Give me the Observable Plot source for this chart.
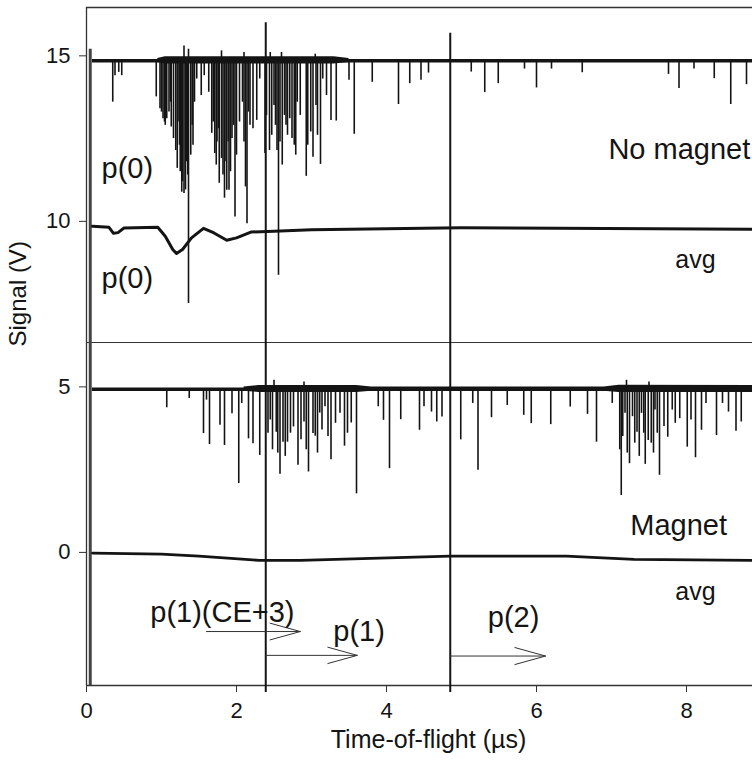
<!DOCTYPE html>
<html><head><meta charset="utf-8">
<script src="https://cdn.jsdelivr.net/npm/d3@7"></script>
<script src="https://cdn.jsdelivr.net/npm/@observablehq/plot@0.6"></script>
<style>body{margin:0;background:#fff} svg{font-family:"Liberation Sans",Arial,sans-serif}</style>
</head><body><div id="chart"></div>
<script>
// ---- tick labels ----
const xTicks = [0, 2, 4, 6, 8];
const yTicks = [0, 5, 10, 15];

// ---- trace baselines (V) ----
const topBase = 14.85;   // single shot, no magnet (offset +15)
const magBase = 4.93;    // single shot, magnet (offset +5)

// ---- single-shot spikes: [time µs, signal V] (No magnet) ----
const topSpikes = [
  [0.35,13.6],[0.38,14.4],[0.43,14.5],[0.47,14.4],[0.93,13.76],[0.98,13.4],[1.00,13.3],[1.02,13.1],
  [1.04,13.0],[1.05,12.9],[1.07,13.1],[1.10,13.3],[1.12,13.6],[1.13,12.85],[1.16,12.5],[1.19,12.14],
  [1.21,11.6],[1.22,13.0],[1.24,12.3],[1.25,11.5],[1.27,10.88],[1.28,11.2],[1.30,10.84],[1.32,10.95],
  [1.33,11.8],[1.35,11.4],[1.36,7.52],[1.39,12.0],[1.41,12.9],[1.42,12.3],[1.44,13.6],[1.47,14.3],
  [1.53,13.8],[1.57,14.4],[1.63,13.9],[1.67,12.66],[1.69,13.0],[1.71,12.05],[1.73,11.7],[1.74,12.4],
  [1.76,12.8],[1.77,11.15],[1.80,11.9],[1.82,11.4],[1.84,10.7],[1.86,11.8],[1.87,10.94],[1.89,12.4],
  [1.90,10.94],[1.92,11.5],[1.94,12.5],[1.96,12.9],[1.98,10.13],[2.00,12.0],[2.04,13.0],[2.08,13.6],
  [2.10,12.4],[2.12,11.04],[2.14,9.93],[2.16,13.3],[2.18,12.9],[2.22,12.8],[2.27,13.05],[2.31,14.3],
  [2.38,12.05],[2.40,13.2],[2.44,12.14],[2.47,12.6],[2.50,13.5],[2.52,12.9],[2.54,12.14],[2.56,8.37],
  [2.58,12.4],[2.61,11.7],[2.64,13.2],[2.66,12.9],[2.68,12.6],[2.71,13.1],[2.74,12.5],[2.77,12.3],
  [2.79,12.0],[2.81,13.6],[2.85,13.2],[2.93,11.36],[2.95,12.3],[2.99,12.7],[3.02,11.94],[3.06,13.5],
  [3.08,12.6],[3.12,11.72],[3.15,14.3],[3.20,13.8],[3.26,13.05],[3.33,13.03],[3.50,14.26],[3.57,12.63],
  [3.81,14.2],[4.16,13.53],[4.31,14.16],[4.46,14.26],[4.56,14.48],[5.13,14.51],[5.31,13.89],[5.49,14.16],
  [5.84,14.6],[6.00,14.03],[6.20,14.6],[6.61,14.49],[7.76,14.44],[7.90,14.01],[8.10,14.6],[8.37,14.31],
  [8.59,13.53],[8.80,14.13],
  [1.30,15.3],[1.36,15.2],[1.80,15.15],[2.10,15.1],[2.45,15.1],[2.60,15.1],[3.05,15.05]
];

// ---- single-shot spikes: [time µs, signal V] (Magnet) ----
const magSpikes = [
  [1.07,4.37],[1.37,4.65],[1.56,3.59],[1.60,4.6],[1.64,3.26],[1.78,3.84],[1.84,3.23],[1.94,4.19],
  [2.03,2.08],[2.07,4.5],[2.16,3.43],[2.22,3.28],[2.31,2.93],[2.42,3.6],[2.45,4.0],[2.48,3.10],
  [2.53,3.63],[2.55,3.0],[2.58,2.36],[2.62,3.33],[2.65,2.9],[2.68,3.33],[2.72,3.6],[2.76,3.79],
  [2.82,2.63],[2.86,3.4],[2.90,3.94],[2.93,3.1],[2.96,2.43],[3.02,3.59],[3.05,3.51],[3.08,3.0],
  [3.11,4.21],[3.14,3.7],[3.18,4.4],[3.22,3.5],[3.26,2.80],[3.32,3.9],[3.38,4.2],[3.44,3.21],
  [3.48,3.6],[3.53,3.91],[3.60,1.77],[3.89,4.4],[3.96,3.99],[4.04,2.53],[4.19,4.01],[4.44,3.69],
  [4.50,4.4],[4.60,4.24],[4.67,3.94],[4.74,4.09],[4.99,3.40],[5.15,4.5],[5.22,2.48],[5.40,4.07],
  [5.61,4.44],[5.83,4.14],[5.93,3.89],[6.19,3.86],[6.45,4.39],[6.68,4.17],[6.80,3.33],[7.01,4.5],
  [7.11,3.10],[7.13,1.72],[7.15,3.5],[7.18,4.2],[7.21,3.0],[7.24,2.68],[7.28,4.1],[7.31,3.3],
  [7.34,3.63],[7.37,2.9],[7.40,4.2],[7.43,3.6],[7.45,2.66],[7.49,3.38],[7.53,3.30],[7.56,3.0],
  [7.58,4.3],[7.61,3.6],[7.64,2.33],[7.70,3.8],[7.75,3.48],[7.81,4.3],[7.85,3.9],[7.91,4.04],
  [8.01,3.18],[8.06,4.0],[8.12,2.86],[8.20,3.69],[8.26,4.5],[8.40,3.53],[8.48,4.5],[8.56,4.24],
  [8.66,3.66],[8.73,3.94],
  [2.5,5.2],[2.9,5.15],[7.2,5.2],[7.5,5.15]
];

// ---- noise envelope of the single shots: [time µs, low V, high V] ----
const topBand = [[0.95,14.8,14.92],[1.05,14.75,14.97],[3.3,14.75,14.97],[3.5,14.8,14.92]];
const magBand = [[2.1,4.87,5.0],[2.3,4.83,5.04],[3.6,4.83,5.04],[3.8,4.87,5.0],
                 [6.9,4.87,5.0],[7.1,4.83,5.05],[8.88,4.83,5.04]];

// ---- averaged traces: [time µs, signal V] ----
const topAvg = [
  [0.08,9.85],[0.30,9.82],[0.36,9.64],[0.42,9.66],[0.50,9.80],[0.95,9.82],[1.05,9.55],[1.15,9.15],
  [1.20,9.03],[1.28,9.15],[1.40,9.50],[1.56,9.79],[1.70,9.65],[1.87,9.43],[2.00,9.50],[2.20,9.68],
  [2.50,9.70],[3.00,9.75],[5.00,9.81],[8.88,9.76]
];
const magAvg = [
  [0.08,-0.02],[1.00,-0.05],[1.50,-0.11],[2.30,-0.24],[2.85,-0.24],[4.85,-0.11],[6.40,-0.11],
  [7.30,-0.21],[8.88,-0.24]
];

// ---- reference lines ----
const gateTimes = [{t:2.39, top:16.0}, {t:4.85, top:15.68}];
const triggerTime = 0.05;
const separator = 6.34;

// ---- arrows and labels ----
const arrows = [
  {x1:1.6, x2:2.85, y:-2.39},
  {x1:2.39, x2:3.61, y:-3.11},
  {x1:4.85, x2:6.12, y:-3.13}
];
const startLabels = [
  {text:"p(0)", x:0.2, y:11.6},
  {text:"p(0)", x:0.2, y:8.28},
  {text:"Magnet", x:7.25, y:0.82},
  {text:"p(1)(CE+3)", x:0.85, y:-1.81},
  {text:"p(1)", x:3.29, y:-2.39},
  {text:"p(2)", x:5.35, y:-1.96}
];
const endLabels = [
  {text:"No magnet", x:8.85, y:12.15}
];
const avgLabels = [
  {text:"avg", x:7.85, y:8.82},
  {text:"avg", x:7.85, y:-1.21}
];

const X0 = 0, X1 = 8.88, Y0 = -4.02, Y1 = 16.46;
const ink = "#141414";

const chart = Plot.plot({
  width: 752, height: 763,
  marginLeft: 86, marginRight: 0, marginTop: 7, marginBottom: 78,
  x: {domain: [X0, X1]},
  y: {domain: [Y0, Y1]},
  style: {fontFamily: '"Liberation Sans", Arial, sans-serif', fontSize: "22px", color: ink, background: "#fff"},
  marks: [
    // frame (left, bottom, top)
    Plot.ruleX([X0], {y1: Y0, y2: Y1, stroke: "#333", strokeWidth: 1.3}),
    Plot.ruleY([Y0], {x1: X0, x2: X1, stroke: "#333", strokeWidth: 1.3}),
    Plot.ruleY([Y1], {x1: X0, x2: X1, stroke: "#333", strokeWidth: 1.3}),
    Plot.axisX(xTicks, {tickSize: 7, tickPadding: 10, fontSize: 22, label: null, stroke: "#333"}),
    Plot.axisY(yTicks, {tickSize: 7, tickPadding: 9, fontSize: 22, label: null, stroke: "#333"}),
    Plot.text(["Time-of-flight (µs)"], {frameAnchor: "bottom", dx: 9, dy: 62, fontSize: 25, fill: ink}),
    Plot.text(["Signal (V)"], {frameAnchor: "left", dx: -68, rotate: -90, fontSize: 24, fill: ink}),
    // separator
    Plot.ruleY([separator], {x1: X0, x2: X1, stroke: "#333", strokeWidth: 1}),
    // trigger
    Plot.ruleX([triggerTime], {y1: Y0, y2: 15.2, stroke: "#444", strokeWidth: 3}),
    // traces
    Plot.areaY(topBand, {x: d => d[0], y1: d => d[1], y2: d => d[2], fill: ink}),
    Plot.areaY(magBand, {x: d => d[0], y1: d => d[1], y2: d => d[2], fill: ink}),
    Plot.ruleY([topBase], {x1: 0.08, x2: X1, stroke: ink, strokeWidth: 3.4}),
    Plot.ruleX(topSpikes, {x: d => d[0], y1: topBase, y2: d => d[1], stroke: ink, strokeWidth: 1.6}),
    Plot.line(topAvg, {x: d => d[0], y: d => d[1], stroke: ink, strokeWidth: 3}),
    Plot.ruleY([magBase], {x1: 0.08, x2: X1, stroke: ink, strokeWidth: 3.6}),
    Plot.ruleX(magSpikes, {x: d => d[0], y1: magBase, y2: d => d[1], stroke: ink, strokeWidth: 1.6}),
    Plot.line(magAvg, {x: d => d[0], y: d => d[1], stroke: ink, strokeWidth: 2.8}),
    // gate lines
    Plot.ruleX(gateTimes, {x: "t", y1: -4.23, y2: "top", stroke: ink, strokeWidth: 2}),
    // arrows
    Plot.arrow(arrows, {x1: "x1", x2: "x2", y1: "y", y2: "y", headLength: 50, headAngle: 31, stroke: "#333", strokeWidth: 1}),
    // labels
    Plot.text(startLabels, {x: "x", y: "y", text: "text", textAnchor: "start", fontSize: 29, fill: ink}),
    Plot.text(endLabels, {x: "x", y: "y", text: "text", textAnchor: "end", fontSize: 29, fill: ink}),
    Plot.text(avgLabels, {x: "x", y: "y", text: "text", textAnchor: "start", fontSize: 25, fill: ink})
  ]
});
document.getElementById("chart").appendChild(chart);
</script>
</body></html>
